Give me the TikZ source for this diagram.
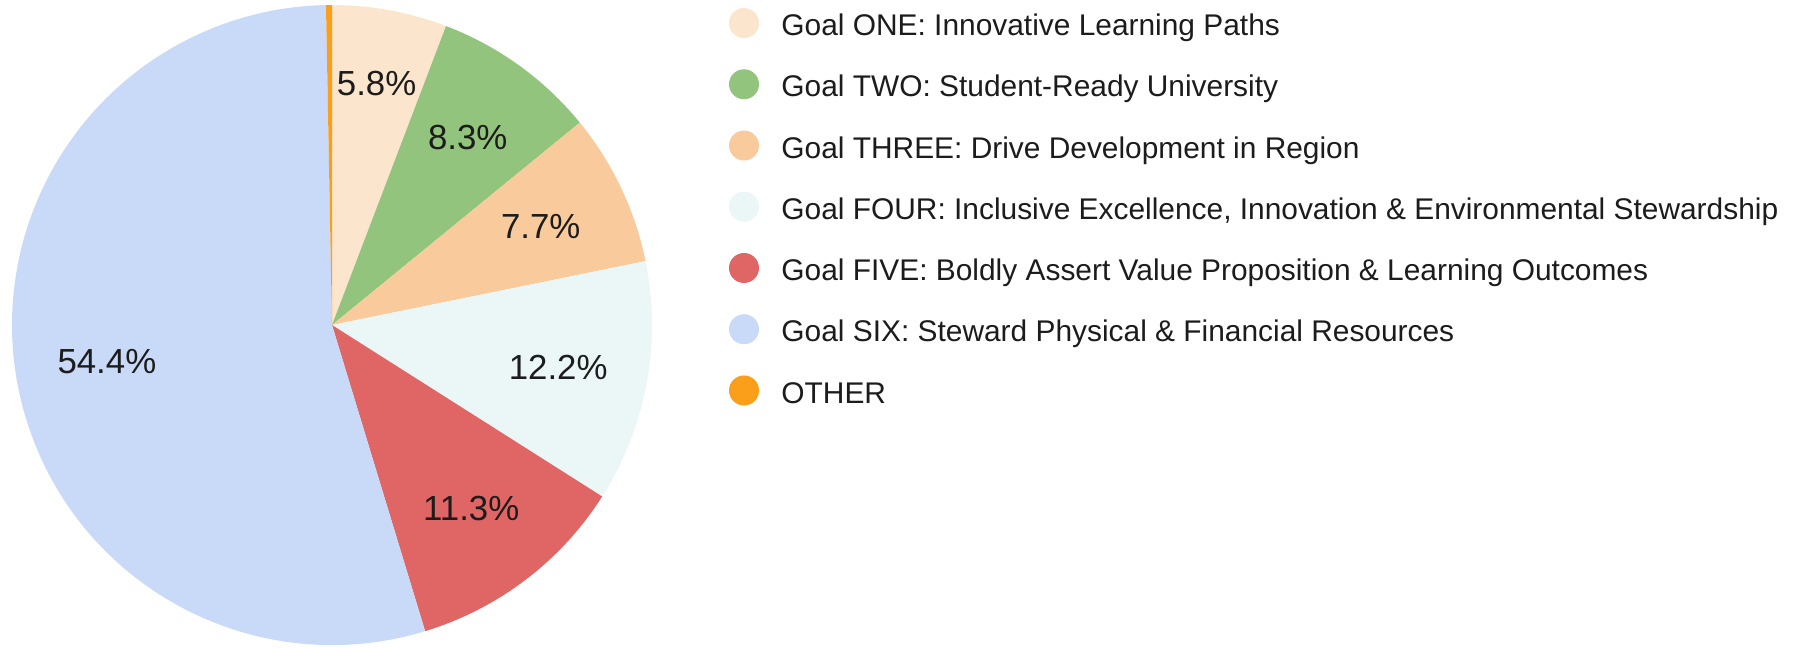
\documentclass[tikz,border=0pt]{standalone}
\usepackage{fontspec}
\setmainfont{Liberation Sans}
\usetikzlibrary{positioning}
\definecolor{goalone}{HTML}{FCE5CD}
\definecolor{goaltwo}{HTML}{93C47D}
\definecolor{goalthree}{HTML}{F9CB9C}
\definecolor{goalfour}{HTML}{EBF7F6}
\definecolor{goalfive}{HTML}{E06666}
\definecolor{goalsix}{HTML}{C9DAF8}
\definecolor{other}{HTML}{FB9F1B}
\definecolor{ink}{HTML}{1C1C1C}

\begin{document}
\begin{tikzpicture}[x=0.01cm, y=0.01cm,
        every node/.append style={text=ink, inner sep=0pt, text height=0.72em, text depth=0pt}]
      \tikzstyle{pct} = [font=\fontsize{9.9pt}{11pt}\selectfont]
      \tikzstyle{key} = [circle, minimum size=0.3cm]
      \tikzstyle{entry} = [font=\fontsize{8.5pt}{10pt}\selectfont]
      \useasboundingbox (-332,-322) rectangle (1468,325);
      \coordinate (centre) at (0,0);
      % slices, clockwise from the top
      \foreach \from/\to/\col in {90/69.12/goalone, 69.12/39.24/goaltwo,
          39.24/11.52/goalthree, 11.52/-32.4/goalfour, -32.4/-73.08/goalfive,
          -73.08/-268.92/goalsix, -268.92/-270/other}
        \fill[\col] (centre) -- (\from:320) arc[start angle=\from, end angle=\to, radius=320] -- cycle;
      % percentages
      \foreach \name/\ang/\dist/\val in {one/79.56/246/5.8, two/54.18/232/8.3,
          three/25.38/231/7.7, four/-10.44/230/12.2, five/-52.74/230/11.3,
          six/-170.9/228/54.4}
        \node (pct\name) [pct] at (\ang:\dist) {\val\%};
      % legend
      \node (dotone) [key, fill=goalone] at (412,302) {};
      \node (dottwo) [key, fill=goaltwo, below=0.298cm of dotone] {};
      \node (dotthree) [key, fill=goalthree, below=0.298cm of dottwo] {};
      \node (dotfour) [key, fill=goalfour, below=0.298cm of dotthree] {};
      \node (dotfive) [key, fill=goalfive, below=0.298cm of dotfour] {};
      \node (dotsix) [key, fill=goalsix, below=0.298cm of dotfive] {};
      \node (dotother) [key, fill=other, below=0.298cm of dotsix] {};
      \node (txtone) [entry, right=0.21cm of dotone] {Goal ONE: Innovative Learning Paths};
      \node (txttwo) [entry, right=0.21cm of dottwo] {Goal TWO: Student-Ready University};
      \node (txtthree) [entry, right=0.21cm of dotthree] {Goal THREE: Drive Development in Region};
      \node (txtfour) [entry, right=0.21cm of dotfour] {Goal FOUR: Inclusive Excellence, Innovation \& Environmental Stewardship};
      \node (txtfive) [entry, right=0.21cm of dotfive] {Goal FIVE: Boldly Assert Value Proposition \& Learning Outcomes};
      \node (txtsix) [entry, right=0.21cm of dotsix] {Goal SIX: Steward Physical \& Financial Resources};
      \node (txtother) [entry, right=0.21cm of dotother] {OTHER};
    \end{tikzpicture}
\end{document}
